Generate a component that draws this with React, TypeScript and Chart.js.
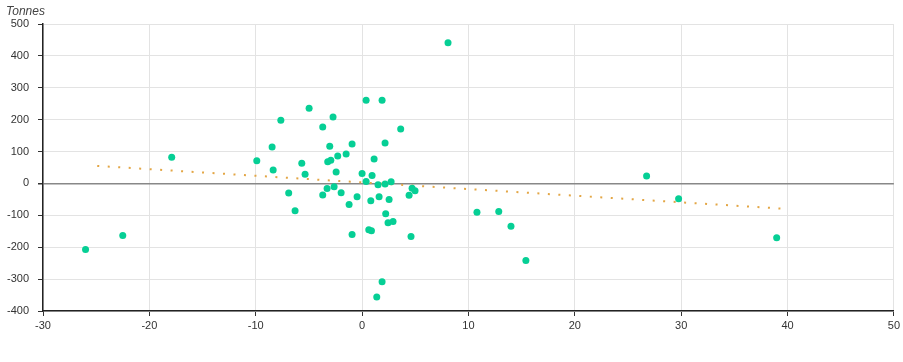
import React, { useEffect, useRef } from "react";
import { Chart, registerables } from "chart.js";

Chart.register(...registerables);

const xValues: number[] = [
  -26.0, -22.5, -17.9, -9.9, -8.46, -7.64, -8.36, -6.9, -6.3, -5.67, -5.36, -4.98, -3.7, -3.7, -3.29, -3.23,
  -2.94, -3.04, -2.73, -2.63, -2.44, -2.29, -1.97, -1.5, -1.22, -0.94, -0.94, -0.47, 0.0, 0.38, 0.38, 0.63,
  0.82, 0.88, 0.94, 1.13, 1.38, 1.5, 1.6, 1.88, 1.88, 2.16, 2.16, 2.22, 2.44, 2.54, 2.73, 2.91, 3.63, 4.42,
  4.6, 4.7, 4.98, 8.08, 10.8, 12.85, 14.0, 15.4, 26.75, 29.76, 38.98,
];
const yValues: number[] = [
  -207, -163, 82, 71, 114, 198, 42, -30, -86, 63, 29, 236, 177, -36, -16, 68,
  73, 117, 208, -10, 36, 86, -29, 92, -66, 124, -160, -42, 31, 6, 261, -145,
  -54, -148, 25, 77, -356, -4, -42, 261, -308, -2, 127, -95, -123, -50, 5, -119, 171, -37,
  -166, -15, -23, 441, -90, -88, -134, -242, 23, -48, -170,
];
const trendX: number[] = [-24.9, 40];
const trendY: number[] = [55, -80];

const yAxisTitle = "Tonnes";
const xTicks = { min: -30, max: 50, step: 10 };
const yTicks = { min: -400, max: 500, step: 100 };

const FONT = "'Liberation Sans', Arial, Helvetica, sans-serif";

const titlePlugin = {
  id: "unitTitle",
  afterDraw(chart: any) {
    const ctx = chart.ctx;
    ctx.save();
    ctx.font = `italic 12px ${FONT}`;
    ctx.fillStyle = "#444";
    ctx.textAlign = "left";
    ctx.textBaseline = "alphabetic";
    ctx.fillText(yAxisTitle, 6, 15);
    ctx.restore();
  },
};

export default function App() {
  const ref = useRef<HTMLCanvasElement | null>(null);
  useEffect(() => {
    if (!ref.current) return;
    Chart.defaults.font.family = FONT;
    const chart = new Chart(ref.current, {
      type: "scatter",
      data: {
        datasets: [
          {
            type: "scatter",
            label: "points",
            data: xValues.map((x, i) => ({ x, y: yValues[i] })),
            backgroundColor: "#06cf95",
            borderWidth: 0,
            pointRadius: 3.5,
            order: 1,
          },
          {
            type: "line",
            label: "trend",
            data: trendX.map((x, i) => ({ x, y: trendY[i] })),
            borderColor: "#e3a645",
            borderWidth: 2,
            borderDash: [2, 8.5],
            pointRadius: 0,
            fill: false,
            order: 2,
          } as any,
        ],
      },
      plugins: [titlePlugin],
      options: {
        animation: false,
        responsive: true,
        maintainAspectRatio: false,
        layout: { padding: { top: 24, left: 0, right: 8, bottom: 0 } },
        plugins: { legend: { display: false }, tooltip: { enabled: false }, title: { display: false } },
        scales: {
          x: {
            type: "linear",
            min: xTicks.min,
            max: xTicks.max,
            afterFit: (s: any) => {
              s.height = 51;
            },
            ticks: { stepSize: xTicks.step, color: "#333", font: { size: 11 }, padding: 3 },
            grid: { color: "#e3e3e3", tickColor: "#333", tickLength: 5, lineWidth: 1 },
            border: { display: true, color: "#222", width: 1.5 },
          },
          y: {
            type: "linear",
            min: yTicks.min,
            max: yTicks.max,
            afterFit: (s: any) => {
              s.width = 43;
            },
            ticks: { stepSize: yTicks.step, color: "#333", font: { size: 11 }, padding: 9 },
            grid: {
              color: (c: any) => (c.tick && c.tick.value === 0 ? "#888" : "#e3e3e3"),
              lineWidth: (c: any) => (c.tick && c.tick.value === 0 ? 1.5 : 1),
              tickColor: "#333",
              tickLength: 5,
            },
            border: { display: true, color: "#222", width: 1.5 },
          },
        },
      },
    });
    return () => chart.destroy();
  }, []);
  return (
    <div style={{ position: "fixed", left: 0, top: 0, width: 903, height: 362, background: "#fff" }}>
      <canvas ref={ref} />
    </div>
  );
}
